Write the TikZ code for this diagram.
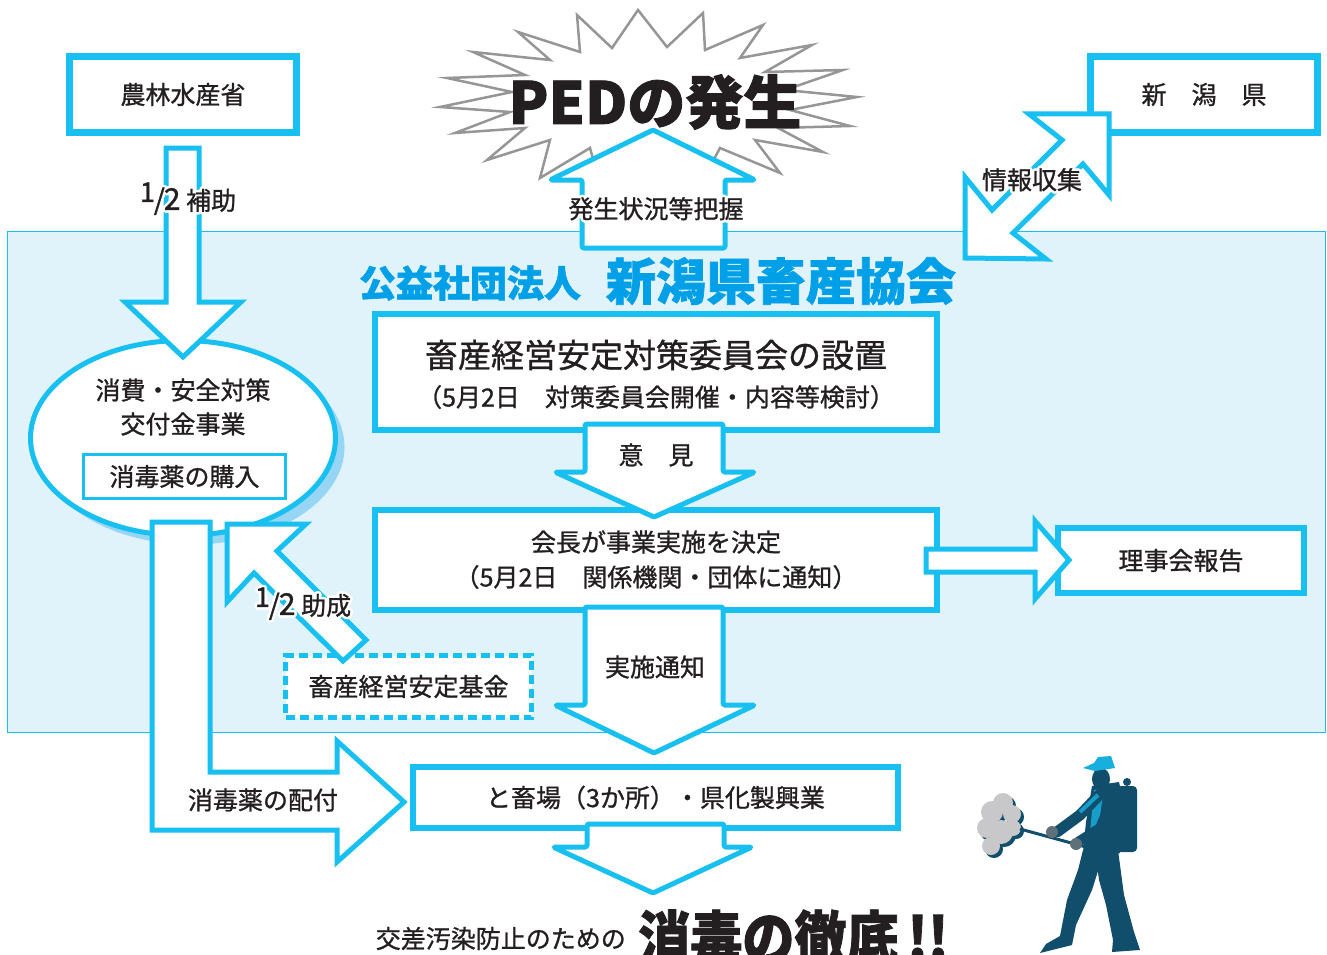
\documentclass[tikz,border=0pt]{standalone}
\usepackage{fontspec}
\setmainfont[FakeBold=1]{Noto Sans CJK JP}
\newfontfamily\heavy[FakeBold=1.5]{Noto Sans CJK JP}
\usepackage{graphicx}
\usepackage{contour}
\contourlength{2.5pt}
\usetikzlibrary{shapes.geometric}

\definecolor{ink}{RGB}{35,31,32}
\definecolor{aqua}{RGB}{24,192,241}
\definecolor{deepaqua}{RGB}{0,160,233}
\definecolor{panel}{RGB}{224,243,251}
\definecolor{shade}{RGB}{150,214,244}
\definecolor{burst}{RGB}{150,150,150}
\definecolor{navy}{RGB}{16,78,108}
\definecolor{mist}{RGB}{200,200,202}

\newcommand\fsz[1]{\fontsize{#1}{#1}\selectfont}
\newcommand\halfmark{\raisebox{8pt}{\fsz{27}1}\kern-1pt{\fsz{28}/}\kern-1pt{\fsz{30}2}}

\tikzset{
  frame/.style={draw=aqua, line width=7pt, fill=white, inner sep=0pt},
  thinframe/.style={draw=aqua, line width=6pt, fill=white, inner sep=0pt},
  fatarrow/.style={draw=aqua, line width=5pt, fill=white, line join=miter},
  softarrow/.style={fatarrow, line join=round, rounded corners=1.5pt},
  tag/.style={text=ink, font=\fsz{25}, inner sep=0pt},
}

\begin{document}
\begin{tikzpicture}[x=1pt,y=-1pt]
\useasboundingbox (0,0) rectangle (1327,955);

% association panel
\draw[aqua, fill=panel, line width=1pt] (7,231) rectangle (1325,732);

% outbreak burst
\draw[burst, line width=2.5pt, fill=white]
  (577,15) -- (612,48) -- (638,10) -- (667,47) -- (703,13) -- (705,50)
  -- (763,25) -- (740,58) -- (812,45) -- (765,72) -- (843,70) -- (785,90)
  -- (857,97) -- (790,110) -- (850,126) -- (778,128) -- (823,152) -- (755,140)
  -- (780,173) -- (720,148) -- (700,185) -- (650,152) -- (600,185) -- (590,148)
  -- (540,178) -- (550,140) -- (487,160) -- (525,128) -- (455,133) -- (510,112)
  -- (440,107) -- (512,92) -- (447,78) -- (525,75) -- (473,52) -- (550,60)
  -- (518,32) -- (580,52) -- cycle;
\node[font=\heavy\bfseries\fsz{58}, text=ink] (ped) at (655,102) {PEDの発生};

% upward arrow to the outbreak
\draw[softarrow] (582,248) -- (582,180) -- (550,180) -- (653,130) -- (755,180)
  -- (725,180) -- (725,248) -- cycle;
\node[tag] (grasp) at (656,210) {\contour{white}{発生状況等把握}};

% ministry and prefecture
\node[frame, minimum width=227pt, minimum height=76pt, font=\fsz{25}, text=ink] (maff) at (183,94.5) {農林水産省};
\node[frame, minimum width=227pt, minimum height=76pt, font=\fsz{25}, text=ink] (pref) at (1204,94.5) {新　潟　県};

% two-way arrow with the prefecture
\draw[fatarrow] (1109,114) -- (1109,195) -- (1083,164) -- (1013,233) -- (1046,259)
  -- (965,258) -- (965,177) -- (992,210) -- (1062,140) -- (1029,114) -- cycle;
\node[tag] (info) at (1032,181) {\contour{white}{情報収集}};

% association name
\node[font=\heavy\bfseries\fsz{37}, text=deepaqua] (corp) at (470,283) {公益社団法人};
\node[font=\heavy\bfseries\fsz{50}, text=deepaqua] (assoc) at (781,281) {新潟県畜産協会};

% grant project
\node[ellipse, fill=shade, minimum width=305pt, minimum height=195pt] (koufushadow) at (192,447) {};
\node[ellipse, draw=aqua, line width=5pt, fill=white, minimum width=305pt, minimum height=195pt] (koufu) at (183,438) {};
\node[tag] (koufu1) at (183,390) {消費・安全対策};
\node[tag] (koufu2) at (183,424) {交付金事業};
\node[draw=aqua, line width=3pt, fill=white, minimum width=202pt, minimum height=44pt, inner sep=0pt, font=\fsz{25}, text=ink] (kounyu) at (184.5,476.5) {消毒薬の購入};

% half subsidy from the ministry
\draw[fatarrow] (166,148) -- (199,148) -- (199,302) -- (241,302) -- (183,357)
  -- (125,302) -- (166,302) -- cycle;
\node[tag] (hojo) at (188,200) {\contour{white}{\halfmark\ 補助}};

% distribution of disinfectant
\draw[fatarrow] (152,522) -- (210,522) -- (210,772) -- (337,772) -- (337,741)
  -- (404,802) -- (337,862) -- (337,830) -- (152,830) -- cycle;
\node[tag] (haifu) at (263,800) {消毒薬の配付};

% stabilisation fund
\node[draw=aqua, line width=5pt, dash pattern=on 9pt off 5pt, fill=white, minimum width=246pt, minimum height=62pt, inner sep=0pt, font=\fsz{25}, text=ink] (kikin) at (408.5,686.5) {畜産経営安定基金};
\draw[fatarrow] (227,524) -- (306,524) -- (277,551) -- (366,640) -- (343,661)
  -- (254,573) -- (227,602) -- cycle;
\node[tag] (josei) at (303,605) {\contour{white}{\halfmark\ 助成}};

% committee and decision
\node[thinframe, minimum width=562pt, minimum height=116pt] (iinkai) at (656,372) {};
\node[tag, font=\fsz{33}] (iinkai1) at (656,355) {畜産経営安定対策委員会の設置};
\node[tag] (iinkai2) at (656,397) {（5月2日　対策委員会開催・内容等検討）};
\node[thinframe, minimum width=562pt, minimum height=100pt] (kettei) at (656,560) {};
\node[tag] (kettei1) at (656,542) {会長が事業実施を決定};
\node[tag] (kettei2) at (656,577) {（5月2日　関係機関・団体に通知）};
\draw[softarrow] (585,424) -- (723,424) -- (723,472) -- (755,472) -- (654,517)
  -- (555,472) -- (585,472) -- cycle;
\node[tag] (iken) at (656,455) {意　見};

% report to the board
\node[thinframe, minimum width=246pt, minimum height=65pt, font=\fsz{25}, text=ink] (riji) at (1181,560.5) {理事会報告};
\draw[fatarrow] (926,549) -- (1035,549) -- (1035,521) -- (1069,560) -- (1035,599)
  -- (1035,572) -- (926,572) -- cycle;

% notice of implementation
\draw[softarrow] (585,607) -- (723,607) -- (723,705) -- (755,705) -- (654,753)
  -- (555,705) -- (585,705) -- cycle;
\node[tag] (tsuchi) at (655,667) {実施通知};

% slaughterhouses
\node[thinframe, minimum width=485pt, minimum height=61pt, font=\fsz{25}, text=ink] (tochiku) at (655.5,797.5) {と畜場（3か所）・県化製興業};
\draw[softarrow] (587,824) -- (724,824) -- (724,847) -- (752,847) -- (653,893)
  -- (553,847) -- (587,847) -- cycle;

% closing line
\node[tag, anchor=base east] (cross) at (626,948) {交差汚染防止のための};
\node[font=\heavy\bfseries\fsz{56}, text=ink, anchor=base west, inner sep=0pt] (tettei) at (638,960) {\scalebox{0.93}[1.05]{消毒の徹底\,!!}};

% man with sprayer
\foreach \cx/\cy/\r in {992/812/11, 1003/803/10, 1012/814/9, 987/828/10, 1001/832/12, 991/846/9, 1013/828/8}
  \fill[navy] (\cx+3,\cy+3) circle (\r pt);
\foreach \cx/\cy/\r in {992/812/11, 1003/803/10, 1012/814/9, 987/828/10, 1001/832/12, 991/846/9, 1013/828/8}
  \fill[mist] (\cx,\cy) circle (\r pt);
\draw[navy, line width=3pt] (1086,847) -- (1020,829);
\fill[navy, rounded corners=4pt] (1117,786) rectangle (1137,852);
\fill[navy] (1127,782) circle (4pt);
\draw[navy, line width=2pt] (1120,852) to[bend left] (1095,845);
\fill[navy] (1083,850) -- (1104,852) -- (1092,890) -- (1076,925) -- (1072,945)
  -- (1040,953) -- (1046,944) -- (1060,936) -- (1067,900) -- (1078,870) -- cycle;
\fill[navy] (1095,850) -- (1118,850) -- (1124,895) -- (1134,932) -- (1140,950)
  -- (1112,952) -- (1113,940) -- (1106,905) -- (1099,880) -- cycle;
\fill[navy] (1092,786) -- (1119,782) -- (1124,805) -- (1120,852) -- (1083,852)
  -- (1086,822) -- cycle;
\fill[aqua!70!navy] (1094,790) -- (1104,788) -- (1098,830) -- (1090,832) -- cycle;
\fill[navy] (1101,779) ellipse (9pt and 11pt);
\fill[aqua!85!navy] (1083,768) -- (1094,763) -- (1098,757) -- (1111,756)
  -- (1115,768) -- (1095,771) -- cycle;
\draw[navy, line width=11pt, line cap=round] (1102,792) -- (1080,815) -- (1057,832);
\draw[aqua!70!navy, line width=4pt] (1098,795) -- (1080,812);
\draw[navy, line width=10pt, line cap=round] (1112,800) -- (1100,828) -- (1078,842);
\fill[gray!70!navy] (1052,832) circle (6pt);
\fill[gray!70!navy] (1076,844) circle (6pt);
\end{tikzpicture}
\end{document}
